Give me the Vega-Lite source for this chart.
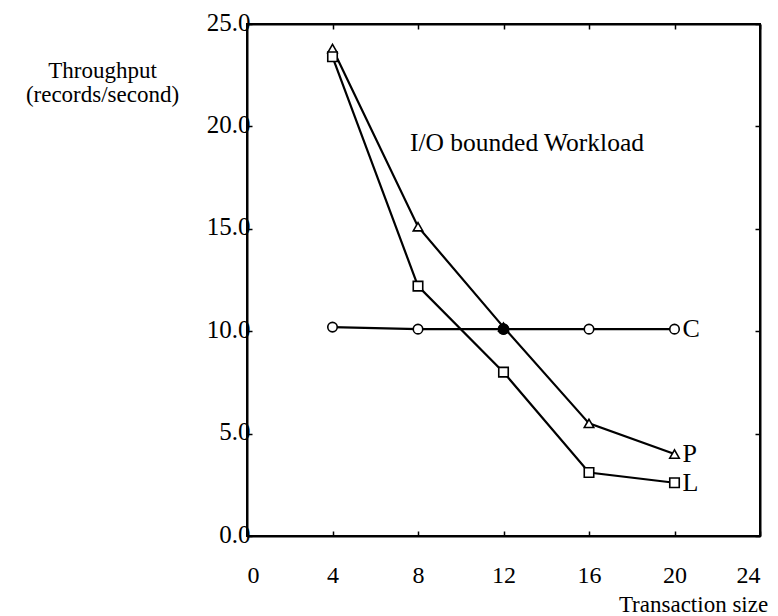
{
  "$schema": "https://vega.github.io/schema/vega-lite/v6.json",
  "width": 513,
  "height": 512,
  "autosize": {"type": "none"},
  "padding": {"left": 247, "top": 24, "right": 18, "bottom": 80},
  "background": "white",
  "config": {
    "font": "Liberation Serif",
    "view": {"stroke": "black", "strokeWidth": 2},
    "axis": {
      "domainColor": "black", "domainWidth": 2,
      "tickColor": "black", "tickWidth": 1.5,
      "labelColor": "black", "titleColor": "black",
      "labelFont": "Liberation Serif", "titleFont": "Liberation Serif",
      "labelFontSize": 25, "titleFontSize": 23, "titleFontWeight": "normal",
      "grid": false
    }
  },
  "datasets": {
    "series": [
      {"series": "C", "size": 4, "throughput": 10.2},
      {"series": "C", "size": 8, "throughput": 10.1},
      {"series": "C", "size": 12, "throughput": 10.1},
      {"series": "C", "size": 16, "throughput": 10.1},
      {"series": "C", "size": 20, "throughput": 10.1},
      {"series": "P", "size": 4, "throughput": 23.8},
      {"series": "P", "size": 8, "throughput": 15.1},
      {"series": "P", "size": 12, "throughput": 10.2},
      {"series": "P", "size": 16, "throughput": 5.5},
      {"series": "P", "size": 20, "throughput": 4.0},
      {"series": "L", "size": 4, "throughput": 23.4},
      {"series": "L", "size": 8, "throughput": 12.2},
      {"series": "L", "size": 12, "throughput": 8.0},
      {"series": "L", "size": 16, "throughput": 3.1},
      {"series": "L", "size": 20, "throughput": 2.6}
    ]
  },
  "resolve": {"axis": {"x": "independent", "y": "independent"}},
  "layer": [
    {
      "data": {"name": "series"},
      "mark": {"type": "line", "color": "black", "strokeWidth": 2.2},
      "encoding": {
        "x": {"field": "size", "type": "quantitative",
          "scale": {"domain": [0, 24], "nice": false},
          "axis": {"orient": "bottom", "values": [0, 4, 8, 12, 16, 20, 24], "format": "d",
            "tickSize": -5, "labelPadding": 32, "labelFontSize": 24,
            "title": "Transaction size", "titleFontSize": 23, "titleX": 446, "titleY": 57,
            "titleAlign": "center", "titleBaseline": "top"}},
        "y": {"field": "throughput", "type": "quantitative",
          "scale": {"domain": [0, 25], "nice": false},
          "axis": {"orient": "left", "values": [0, 5, 10, 15, 20, 25], "format": ".1f",
            "tickSize": -5, "labelPadding": 2, "labelOffset": -2,
            "title": ["Throughput", "(records/second)"], "titleAngle": 0,
            "titleX": -145, "titleY": 35, "titleAlign": "center", "titleBaseline": "top",
            "titleLineHeight": 24}},
        "detail": {"field": "series"}
      }
    },
    {
      "data": {"name": "series"},
      "mark": {"type": "point", "fill": "white", "stroke": "black", "strokeWidth": 1.6, "size": 90, "opacity": 1, "fillOpacity": 1},
      "encoding": {
        "x": {"field": "size", "type": "quantitative", "axis": null},
        "y": {"field": "throughput", "type": "quantitative", "axis": null},
        "shape": {"field": "series", "type": "nominal",
          "scale": {"domain": ["C", "P", "L"], "range": ["circle", "triangle-up", "square"]},
          "legend": null}
      }
    },
    {
      "data": {"name": "series"},
      "transform": [{"filter": "datum.series == 'C' && datum.size == 12"}],
      "mark": {"type": "point", "filled": true, "color": "black", "size": 140, "opacity": 1},
      "encoding": {
        "x": {"field": "size", "type": "quantitative", "axis": null},
        "y": {"field": "throughput", "type": "quantitative", "axis": null}
      }
    },
    {
      "data": {"name": "series"},
      "transform": [{"filter": "datum.size == 20"}],
      "mark": {"type": "text", "align": "left", "baseline": "middle", "dx": 8, "fontSize": 26, "color": "black"},
      "encoding": {
        "x": {"field": "size", "type": "quantitative", "axis": null},
        "y": {"field": "throughput", "type": "quantitative", "axis": null},
        "text": {"field": "series"}
      }
    },
    {
      "data": {"values": [{"size": 13.1, "throughput": 19.2, "label": "I/O bounded Workload"}]},
      "mark": {"type": "text", "align": "center", "baseline": "middle", "fontSize": 25.5, "color": "black"},
      "encoding": {
        "x": {"field": "size", "type": "quantitative",
          "axis": {"orient": "top", "values": [0, 4, 8, 12, 16, 20, 24], "labels": false, "title": null, "tickSize": -5}},
        "y": {"field": "throughput", "type": "quantitative",
          "axis": {"orient": "right", "values": [0, 5, 10, 15, 20, 25], "labels": false, "title": null, "tickSize": -5}},
        "text": {"field": "label"}
      }
    }
  ]
}
